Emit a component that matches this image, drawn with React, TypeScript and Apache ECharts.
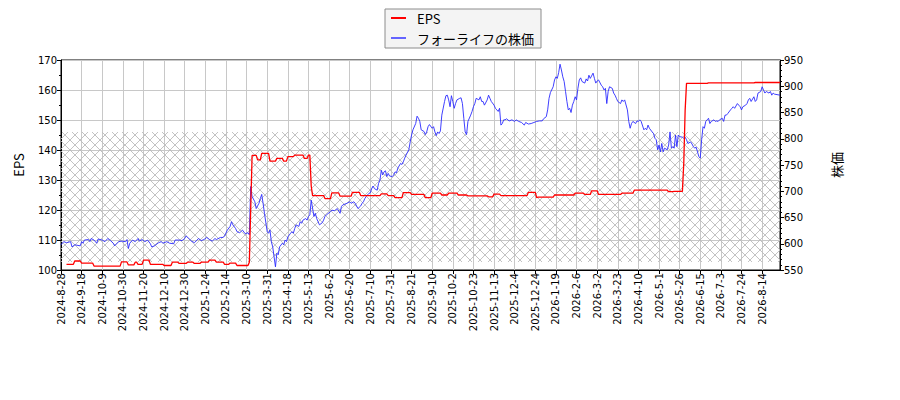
import React, { useEffect, useRef } from 'react';
import * as echarts from 'echarts';

// x = trading-day number counted from 2024-8-28; a tick label every 15 trading days
const tickLabels = [
  '2024-8-28', '2024-9-18', '2024-10-9', '2024-10-30', '2024-11-20', '2024-12-10', '2024-12-30',
  '2025-1-24', '2025-2-14', '2025-3-10', '2025-3-31', '2025-4-18', '2025-5-13', '2025-6-2',
  '2025-6-20', '2025-7-10', '2025-7-31', '2025-8-21', '2025-9-10', '2025-10-2', '2025-10-23',
  '2025-11-13', '2025-12-4', '2025-12-24', '2026-1-19', '2026-2-6', '2026-3-2', '2026-3-23',
  '2026-4-10', '2026-5-1', '2026-5-26', '2026-6-15', '2026-7-3', '2026-7-24', '2026-8-14',
];
const TICK_STEP = 15;
const LAST_DAY = 523;

// EPS: [first day, last day, value]
const epsSegments: [number, number, number][] = [
  [4, 9, 101.9], [10, 14, 103.0], [15, 23, 102.3], [24, 43, 101.3], [44, 48, 102.7],
  [49, 53, 101.7], [54, 55, 102.6], [56, 59, 101.9], [60, 64, 103.3], [65, 74, 101.9],
  [75, 80, 101.5], [81, 85, 102.6], [86, 91, 102.2], [92, 96, 102.6], [97, 101, 102.2],
  [102, 107, 102.6], [108, 112, 103.3], [113, 118, 102.6], [119, 122, 101.9], [123, 127, 102.3],
  [128, 136, 101.5], [137, 137, 102.6], [138, 138, 120.6], [139, 142, 138.2], [143, 145, 136.7],
  [146, 151, 138.9], [152, 156, 136.3], [157, 161, 137.2], [162, 164, 136.3], [165, 169, 137.8],
  [170, 176, 138.3], [177, 179, 137.2], [180, 181, 138.3], [182, 182, 128.0], [183, 191, 124.8],
  [192, 196, 123.8], [197, 202, 125.7], [203, 211, 124.6], [212, 217, 125.9], [218, 232, 124.8],
  [233, 237, 125.4], [238, 242, 124.8], [243, 248, 124.1], [249, 254, 125.8], [255, 264, 125.2],
  [265, 269, 124.1], [270, 276, 125.6], [277, 281, 125.0], [282, 288, 125.6], [289, 295, 125.0],
  [296, 310, 124.7], [311, 314, 124.4], [315, 319, 125.3], [320, 339, 124.8], [340, 345, 125.9],
  [346, 346, 124.1], [347, 358, 124.3], [359, 373, 125.0], [374, 380, 125.6], [381, 385, 125.2],
  [386, 390, 126.4], [391, 407, 125.2], [408, 416, 125.6], [417, 441, 126.6], [442, 445, 126.1],
  [446, 452, 126.2], [453, 453, 135.6], [454, 454, 153.3], [455, 470, 162.2], [471, 504, 162.4],
  [505, 523, 162.5],
];

// Share price: [day, price]
const pricePoints: [number, number][] = [
  [0, 598], [2, 604], [4, 602], [7, 604], [8, 594], [10, 598], [14, 596], [15, 604], [16, 601], [17, 607],
  [20, 608], [21, 604], [22, 610], [24, 607], [26, 601], [27, 609], [30, 607], [32, 604], [34, 610], [36, 606],
  [38, 601], [39, 596], [42, 604], [44, 605], [47, 604], [48, 608], [49, 591], [50, 601], [52, 607], [54, 604],
  [56, 610], [57, 605], [59, 608], [61, 604], [63, 607], [65, 600], [66, 594], [68, 596], [71, 602], [73, 604],
  [74, 601], [77, 604], [79, 601], [82, 600], [83, 607], [86, 607], [88, 606], [90, 610], [91, 615], [93, 610],
  [95, 605], [97, 602], [99, 607], [100, 610], [102, 606], [104, 608], [106, 612], [108, 608], [110, 605], [112, 610],
  [113, 608], [116, 612], [118, 612], [119, 615], [121, 626], [123, 633], [124, 642], [125, 636], [127, 629], [128, 623],
  [130, 621], [132, 626], [134, 619], [136, 621], [137, 617],
  [138, 709], [139, 690], [141, 680], [142, 667], [144, 677], [145, 686], [146, 694], [147, 677], [148, 658], [150, 623],
  [151, 620], [152, 626], [153, 604], [154, 594], [156, 556], [157, 582], [158, 579], [159, 594], [161, 601], [162, 598],
  [163, 607], [164, 604], [165, 613], [167, 620], [168, 623], [169, 620], [170, 629], [171, 636], [173, 633], [174, 642],
  [175, 639], [176, 645], [178, 648], [179, 645], [180, 652], [181, 655], [182, 683], [184, 652], [185, 658], [186, 648],
  [187, 642], [188, 636], [190, 640], [191, 645], [192, 652], [193, 655], [196, 661], [197, 664], [199, 663], [201, 667],
  [203, 658], [204, 671], [205, 674], [208, 677], [210, 680], [211, 677], [213, 680], [214, 677], [215, 672], [216, 667],
  [218, 672], [219, 677], [220, 680], [221, 686], [222, 690], [224, 696], [225, 697], [226, 705], [227, 710], [228, 705],
  [230, 702], [231, 715], [232, 721], [233, 740], [234, 731], [235, 737], [236, 739], [237, 728], [238, 734], [239, 729],
  [241, 728], [242, 731], [243, 737], [244, 735], [245, 744], [247, 753], [248, 751], [249, 756], [250, 763], [251, 769],
  [253, 779], [254, 794], [255, 807], [256, 817], [258, 829], [259, 843], [260, 839], [261, 833], [262, 817], [264, 814],
  [265, 808],
  [266, 813], [267, 823], [268, 827], [270, 820], [271, 823], [272, 813], [273, 806], [274, 813], [275, 810], [276, 815],
  [277, 845], [279, 871], [280, 882], [281, 883], [282, 874], [283, 861], [284, 882], [285, 871], [286, 858], [287, 867],
  [288, 874], [290, 877], [291, 878], [292, 867], [293, 839], [294, 813], [295, 808], [296, 833], [298, 845], [299, 852],
  [300, 861], [301, 867], [302, 877], [304, 874], [305, 880], [306, 871], [307, 871], [308, 864], [310, 874], [311, 883],
  [312, 877], [313, 871], [315, 864], [316, 858], [317, 855], [318, 852], [319, 858], [320, 826], [321, 829], [322, 836],
  [323, 836], [324, 838], [326, 834], [328, 836], [330, 833], [331, 836], [333, 833], [335, 831], [337, 826], [338, 831],
  [340, 828], [342, 829], [344, 831], [346, 833], [348, 834], [350, 834], [351, 838], [353, 842], [354, 855], [355, 877],
  [356, 888], [358, 899], [359, 912], [360, 918], [361, 915], [362, 926], [363, 942], [364, 931], [365, 918], [366, 909],
  [367, 890], [368, 871], [369, 855], [370, 858], [371, 850], [372, 864], [373, 871], [374, 880], [375, 874], [376, 896],
  [377, 912], [378, 916], [379, 909], [381, 906], [382, 914], [383, 910], [384, 921], [385, 915], [387, 925], [388, 915],
  [389, 906], [390, 910], [391, 912], [393, 902], [394, 899], [395, 893], [396, 896], [397, 867], [398, 890], [399, 899],
  [401, 896], [402, 887], [403, 883], [404, 877], [405, 871], [407, 867], [408, 874], [409, 871], [410, 874], [412, 855],
  [413, 833], [414, 820], [415, 829], [416, 833], [418, 829], [419, 834], [420, 833], [421, 836], [422, 833], [424, 817],
  [425, 820], [426, 817], [427, 826], [428, 820], [430, 813], [431, 810], [432, 801], [433, 798], [434, 779], [435, 788],
  [436, 775], [437, 791], [438, 775], [439, 782], [441, 779], [442, 788], [443, 813], [444, 782], [445, 785], [446, 782],
  [447, 807], [448, 785], [449, 807], [450, 804], [452, 803], [453, 801], [454, 803], [455, 798], [456, 791], [458, 794],
  [459, 790], [460, 785], [461, 782], [462, 784], [464, 766], [465, 763], [466, 798], [467, 823], [468, 820], [469, 833],
  [470, 836], [471, 839], [472, 829], [473, 833], [475, 836], [476, 833], [477, 834], [478, 833], [479, 836], [481, 839],
  [482, 833], [483, 845], [484, 845], [485, 848], [487, 855], [488, 858], [489, 861], [490, 858], [492, 867], [493, 864],
  [494, 861], [495, 855], [496, 861], [498, 864], [499, 867], [500, 874], [501, 877], [502, 871], [504, 880], [505, 871],
  [506, 874], [507, 887], [509, 890], [510, 899], [511, 893], [512, 887], [513, 890], [515, 887], [516, 890], [517, 883],
  [518, 887], [519, 885], [523, 883],
];

// hatched EPS band [lower, upper]
const hatchBand = [102.7, 146];

const EPS_NAME = 'EPS';
const PRICE_NAME = 'フォーライフの株価';

const hatchSvg =
  '<svg xmlns="http://www.w3.org/2000/svg" width="10" height="10">' +
  '<path d="M-1,-1 L11,11 M-1,11 L11,-1" stroke="#bcbcbc" stroke-width="0.9" fill="none"/></svg>';
const hatchUrl = 'data:image/svg+xml;charset=utf-8,' + encodeURIComponent(hatchSvg);

const TICK_FONT = 'DejaVu Sans';
const CJK_FONT = 'Noto Sans CJK JP';

export default function App() {
  const ref = useRef<HTMLDivElement>(null);

  useEffect(() => {
    document.body.style.margin = '0';
    if (!ref.current) return;
    const chart = echarts.init(ref.current, null, { renderer: 'svg' });

    const epsData: [number, number][] = [];
    epsSegments.forEach(([s, e, v]) => {
      epsData.push([s, v]);
      if (e !== s) epsData.push([e, v]);
    });
    const tickValues = tickLabels.map((_, i) => i * TICK_STEP);

    const option: any = {
      animation: false,
      grid: {
        left: 61, right: 120, top: 60, bottom: 130,
        show: true, borderColor: '#000', borderWidth: 1, backgroundColor: 'transparent',
      },
      legend: {
        orient: 'vertical',
        left: 385,
        top: 9,
        padding: [1, 7, 2, 6],
        itemGap: 4,
        itemWidth: 15,
        itemHeight: 2,
        icon: 'rect',
        backgroundColor: '#f4f4f4',
        borderColor: '#8c8c8c',
        borderWidth: 1,
        borderRadius: 0,
        textStyle: {
          fontFamily: CJK_FONT, fontSize: 13, color: '#000', lineHeight: 16, padding: [0, 0, 0, 6],
        },
        data: [
          { name: EPS_NAME, itemStyle: { color: '#ff0000' } },
          { name: PRICE_NAME, itemStyle: { color: '#6464ff' } },
        ],
      },
      xAxis: {
        type: 'value',
        min: 0,
        max: LAST_DAY,
        interval: TICK_STEP,
        axisLine: { show: true, lineStyle: { color: '#000', width: 1 } },
        axisTick: { show: true, customValues: tickValues, length: 4, lineStyle: { color: '#000' } },
        axisLabel: {
          customValues: tickValues,
          rotate: 90,
          fontSize: 10,
          fontFamily: TICK_FONT,
          color: '#000',
          margin: 3,
          formatter: (v: number) => tickLabels[Math.round(v / TICK_STEP)] ?? '',
        },
        splitLine: { show: true, lineStyle: { color: '#c8c8c8', width: 1 } },
      },
      yAxis: [
        {
          type: 'value',
          position: 'left',
          min: 100,
          max: 170,
          interval: 10,
          name: 'EPS',
          nameLocation: 'middle',
          nameRotate: 90,
          nameGap: 36,
          nameTextStyle: { fontFamily: CJK_FONT, fontSize: 13, color: '#000' },
          axisLine: { show: true, lineStyle: { color: '#000' } },
          axisTick: { show: true, length: 4, lineStyle: { color: '#000' } },
          minorTick: { show: true, splitNumber: 2, length: 2, lineStyle: { color: '#000' } },
          axisLabel: { fontSize: 10, fontFamily: TICK_FONT, color: '#000', margin: 4 },
          splitLine: { show: true, lineStyle: { color: '#c8c8c8', width: 1 } },
        },
        {
          type: 'value',
          position: 'right',
          min: 550,
          max: 950,
          interval: 50,
          name: '株価',
          nameLocation: 'middle',
          nameRotate: 90,
          nameGap: 50,
          nameTextStyle: { fontFamily: CJK_FONT, fontSize: 13, color: '#000' },
          axisLine: { show: true, lineStyle: { color: '#000' } },
          axisTick: { show: true, length: 4, lineStyle: { color: '#000' } },
          minorTick: { show: true, splitNumber: 5, length: 2, lineStyle: { color: '#000' } },
          axisLabel: { fontSize: 10, fontFamily: TICK_FONT, color: '#000', margin: 4 },
          splitLine: { show: false },
        },
      ],
      series: [
        {
          name: EPS_NAME,
          type: 'line',
          yAxisIndex: 0,
          data: epsData,
          showSymbol: false,
          symbol: 'none',
          color: '#ff0000',
          lineStyle: { color: '#ff0000', width: 1.3 },
          z: 3,
          markArea: {
            silent: true,
            z: 1,
            itemStyle: {
              color: { image: hatchUrl, repeat: 'repeat', imageWidth: 10, imageHeight: 10 },
              borderWidth: 0,
            },
            label: { show: false },
            data: [[{ yAxis: hatchBand[0] }, { yAxis: hatchBand[1] }]],
          },
        },
        {
          name: PRICE_NAME,
          type: 'line',
          yAxisIndex: 1,
          data: pricePoints,
          showSymbol: false,
          symbol: 'none',
          color: '#2a2aff',
          lineStyle: { color: '#2a2aff', width: 0.9 },
          z: 2,
        },
      ],
    };

    chart.setOption(option);
    return () => chart.dispose();
  }, []);

  return <div ref={ref} style={{ width: 900, height: 400 }} />;
}
